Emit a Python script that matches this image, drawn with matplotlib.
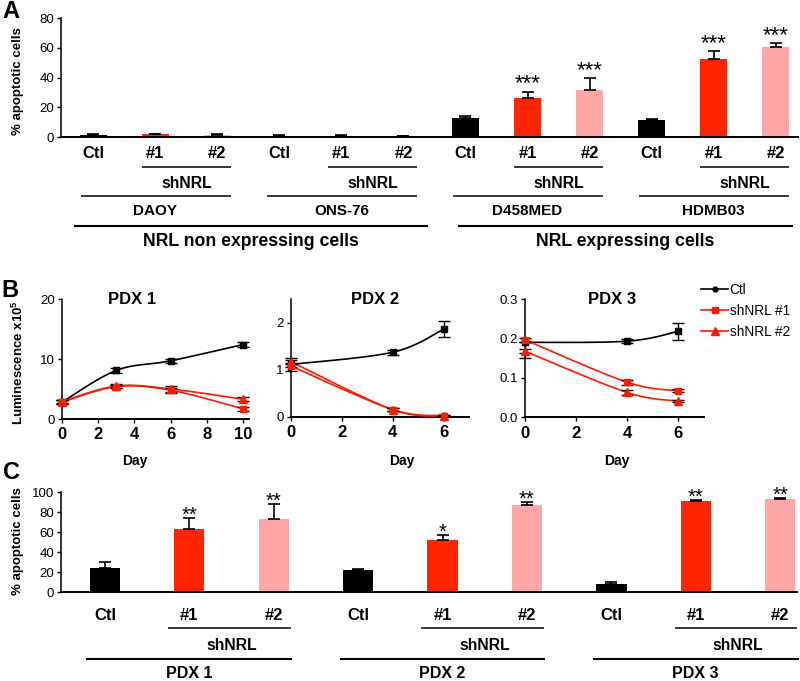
import numpy as np
import matplotlib
matplotlib.use('Agg')
import matplotlib.pyplot as plt
from matplotlib.transforms import blended_transform_factory as blend
from matplotlib.lines import Line2D

plt.rcParams['font.family'] = ['Liberation Sans', 'DejaVu Sans']
plt.rcParams['mathtext.fontset'] = 'custom'
plt.rcParams['mathtext.rm'] = 'Liberation Sans'
plt.rcParams['mathtext.bf'] = 'Liberation Sans:bold'

W, H = 800, 681

# ---- data ----
# panel A
a_labels = ['Ctl', '#1', '#2'] * 4
a_values = [1.5, 1.8, 1.4, 1.0, 1.0, 0.7, 12.6, 26.5, 32.0, 11.4, 52.3, 60.8]
a_errors = [0.2, 0.4, 0.3, 0.1, 0.2, 0.2, 1.5, 4.0, 7.5, 0.9, 5.5, 2.7]
a_stars = ['', '', '', '', '', '', '', '***', '***', '', '***', '***']
a_lines = ['DAOY', 'ONS-76', 'D458MED', 'HDMB03']
a_groups = ['NRL non expressing cells', 'NRL expressing cells']

# panel B
b_titles = ['PDX 1', 'PDX 2', 'PDX 3']
b_days = [[0, 3, 6, 10], [0, 4, 6], [0, 4, 6]]
b_ctl = [[2.8, 8.1, 9.7, 12.4], [1.11, 1.37, 1.86], [0.19, 0.193, 0.218]]
b_ctl_lo = [[0.3, 0.4, 0.3, 0.4], [0.13, 0.05, 0.17], [0.04, 0.005, 0.022]]
b_ctl_hi = [[0.3, 0.4, 0.3, 0.4], [0.13, 0.05, 0.17], [0.0, 0.005, 0.022]]
b_sh1 = [[2.8, 5.4, 4.8, 1.7], [1.08, 0.15, 0.02], [0.197, 0.089, 0.067]]
b_sh1_err = [[0.3, 0.3, 0.4, 0.3], [0.03, 0.03, 0.01], [0.005, 0.006, 0.004]]
b_sh2 = [[2.9, 5.5, 5.0, 3.3], [1.17, 0.15, 0.02], [0.168, 0.063, 0.041]]
b_sh2_err = [[0.3, 0.3, 0.5, 0.3], [0.04, 0.03, 0.01], [0.005, 0.006, 0.003]]
b_legend = ['Ctl', 'shNRL #1', 'shNRL #2']

# panel C
c_labels = ['Ctl', '#1', '#2'] * 3
c_values = [24, 63, 73, 22, 52, 87, 8, 91.6, 93]
c_errors = [6, 11, 15, 1.2, 5, 3, 2.5, 1, 1.5]
c_stars = ['', '**', '**', '', '*', '**', '', '**', '**']
c_groups = ['PDX 1', 'PDX 2', 'PDX 3']

BLACK = '#000000'
RED = '#ff2500'
PINK = '#ffa6a6'
LRED = '#ff1a00'


def rect(x0, y0, x1, y1):
    return [x0 / W, 1 - y1 / H, (x1 - x0) / W, (y1 - y0) / H]


def fy(py):
    return 1 - py / H


def style(ax):
    for s in ['top', 'right']:
        ax.spines[s].set_visible(False)
    ax.spines['left'].set_linewidth(1.1)
    ax.spines['bottom'].set_linewidth(1.4)
    ax.tick_params(axis='y', length=3, width=1, labelsize=9.5, pad=2)


def smooth(x, y, n=24):
    # catmull-rom curve through the points (drawing only)
    pts = np.column_stack([x, y]).astype(float)
    p = np.vstack([pts[0], pts, pts[-1]])
    out = []
    t = np.linspace(0, 1, n)[:, None]
    for i in range(1, len(p) - 2):
        p0, p1, p2, p3 = p[i - 1], p[i], p[i + 1], p[i + 2]
        seg = 0.5 * ((2 * p1) + (-p0 + p2) * t
                     + (2 * p0 - 5 * p1 + 4 * p2 - p3) * t ** 2
                     + (-p0 + 3 * p1 - 3 * p2 + p3) * t ** 3)
        out.append(seg)
    out = np.vstack(out)
    return out[:, 0], out[:, 1]


def hline(ax, x0, x1, py, lw):
    ax.plot([x0, x1], [fy(py)] * 2, transform=blend(ax.transData, fig.transFigure),
            color='black', lw=lw, clip_on=False, solid_capstyle='butt')


def under(ax, x, py, s, size, weight='bold'):
    ax.text(x, fy(py), s, transform=blend(ax.transData, fig.transFigure),
            ha='center', va='center', fontsize=size, fontweight=weight, clip_on=False)


fig = plt.figure(figsize=(8, 6.81), dpi=100)

# ---------------- A ----------------
axA = fig.add_axes(rect(61, 18.3, 798, 137))
style(axA)
xa = np.arange(len(a_values))
cols_a = [BLACK, RED, PINK] * 4
axA.bar(xa, a_values, width=0.44, color=cols_a, zorder=2)
axA.errorbar(xa, a_values, yerr=[np.zeros(len(a_errors)), a_errors], fmt='none',
             ecolor='black', elinewidth=1.2, capsize=4, capthick=1.2, zorder=3)
for i, s in enumerate(a_stars):
    if s:
        axA.annotate(s, (i, a_values[i] + a_errors[i]), xytext=(0, 1.5), textcoords='offset points',
                     ha='center', va='baseline', fontsize=16)
axA.set_xlim(-0.52, 11.36)
axA.set_ylim(0, 80)
axA.set_yticks([0, 20, 40, 60, 80])
axA.set_xticks([])
for i, lab in enumerate(a_labels):
    under(axA, i, 153, lab, 12)
for g in range(4):
    i0 = g * 3
    hline(axA, i0 + 1 - 0.22, i0 + 2 + 0.22, 167, 1.1)
    under(axA, i0 + 1.5, 183, 'shNRL', 11.3)
    hline(axA, i0 - 0.2, i0 + 2 + 0.22, 196, 1.1)
    under(axA, i0 + 1, 211, a_lines[g], 11)
for g, (x0, x1) in enumerate([(-0.31, 5.4), (5.88, 11.28)]):
    hline(axA, x0, x1, 226, 1.5)
    under(axA, (x0 + x1) / 2, 242, a_groups[g], 12.7)
fig.text(18 / W, fy(81), '% apoptotic cells', rotation=90, ha='center', va='center',
         fontsize=9.5, fontweight='bold')

# ---------------- B ----------------
b_rects = [rect(62, 299, 249, 419), rect(290.7, 299, 469.3, 416.7), rect(524.5, 299, 704, 417.3)]
b_xlims = [(0, 10.33), (0, 7), (0, 7)]
b_ylims = [(0, 20), (0, 2.5), (0, 0.3)]
b_yticks = [[0, 10, 20], [0, 1, 2], [0, 0.1, 0.2, 0.3]]
b_ytl = [['0', '10', '20'], ['0', '1', '2'], ['0.0', '0.1', '0.2', '0.3']]
b_xticks = [[0, 2, 4, 6, 8, 10], [0, 2, 4, 6], [0, 2, 4, 6]]
b_title_x = [132, 375, 612]
b_day_x = [135, 402, 617]
axes_b = []
for k in range(3):
    ax = fig.add_axes(b_rects[k])
    style(ax)
    ax.tick_params(axis='x', length=3, width=1, labelsize=12, pad=3)
    d = b_days[k]
    series = [(b_ctl[k], [b_ctl_lo[k], b_ctl_hi[k]], BLACK, 's', 5),
              (b_sh2[k], b_sh2_err[k], LRED, '^', 6),
              (b_sh1[k], b_sh1_err[k], LRED, 's', 5)]
    for vals, err, c, m, ms in series:
        sx, sy = smooth(d, vals)
        ax.plot(sx, sy, color=c, lw=1.2, clip_on=False, zorder=3)
        ax.errorbar(d, vals, yerr=err, fmt='none', ecolor='black', elinewidth=1.0,
                    capsize=4.5, capthick=1.0, clip_on=False, zorder=4)
        ax.plot(d, vals, ls='none', marker=m, ms=ms, color=c, clip_on=False, zorder=5)
    ax.set_xlim(*b_xlims[k])
    ax.set_ylim(*b_ylims[k])
    ax.set_yticks(b_yticks[k])
    ax.set_yticklabels(b_ytl[k])
    ax.set_xticks(b_xticks[k])
    for lab in ax.get_xticklabels():
        lab.set_fontweight('bold')
    fig.text(b_title_x[k] / W, fy(300), b_titles[k], ha='center', va='center', fontsize=12,
             fontweight='bold')
    fig.text(b_day_x[k] / W, fy(461), 'Day', ha='center', va='center', fontsize=10,
             fontweight='bold')
    axes_b.append(ax)

handles = [Line2D([], [], color=BLACK, marker='o', ms=3.5, lw=1.2),
           Line2D([], [], color=LRED, marker='s', ms=5, lw=1.2),
           Line2D([], [], color=LRED, marker='^', ms=5.5, lw=1.2)]
axes_b[2].legend(handles, b_legend, loc='upper left', bbox_to_anchor=(701 / W, fy(283)),
                 bbox_transform=fig.transFigure, frameon=False, fontsize=9.8,
                 handlelength=2.0, handletextpad=0.1, labelspacing=0.5,
                 borderaxespad=0, borderpad=0)
fig.text(18 / W, fy(363), r'Luminescence x10$^{\mathbf{5}}$', rotation=90, ha='center',
         va='center', fontsize=9.5, fontweight='bold')

# ---------------- C ----------------
axC = fig.add_axes(rect(61, 492.3, 797, 592.3))
style(axC)
xc = np.arange(len(c_values))
cols_c = [BLACK, RED, PINK] * 3
axC.bar(xc, c_values, width=0.36, color=cols_c, zorder=2)
axC.errorbar(xc, c_values, yerr=[np.zeros(len(c_errors)), c_errors], fmt='none',
             ecolor='black', elinewidth=1.2, capsize=4, capthick=1.2, zorder=3)
for i, s in enumerate(c_stars):
    if s:
        axC.annotate(s, (i, c_values[i] + c_errors[i]), xytext=(0, -2), textcoords='offset points',
                     ha='center', va='baseline', fontsize=14.5)
axC.set_xlim(-0.52, 8.2)
axC.set_ylim(0, 100)
axC.set_yticks([0, 20, 40, 60, 80, 100])
axC.set_xticks([])
for i, lab in enumerate(c_labels):
    under(axC, i, 615, lab, 12)
for g in range(3):
    i0 = g * 3
    hline(axC, i0 + 1 - 0.25, i0 + 2 + 0.2, 628, 1.1)
    under(axC, i0 + 1.5, 645, 'shNRL', 11.3)
    hline(axC, i0 - 0.22, i0 + 2 + 0.22, 659, 1.5)
    under(axC, i0 + 1, 673, c_groups[g], 11.5)
fig.text(18 / W, fy(541), '% apoptotic cells', rotation=90, ha='center', va='center',
         fontsize=9.5, fontweight='bold')

# panel letters
for lab, px, py in [('A', 11, 0), ('B', 10, 279), ('C', 12, 461)]:
    fig.text(px / W, fy(py), lab, ha='center', va='top', fontsize=17, fontweight='bold')

fig.savefig('out.png', dpi=100)
